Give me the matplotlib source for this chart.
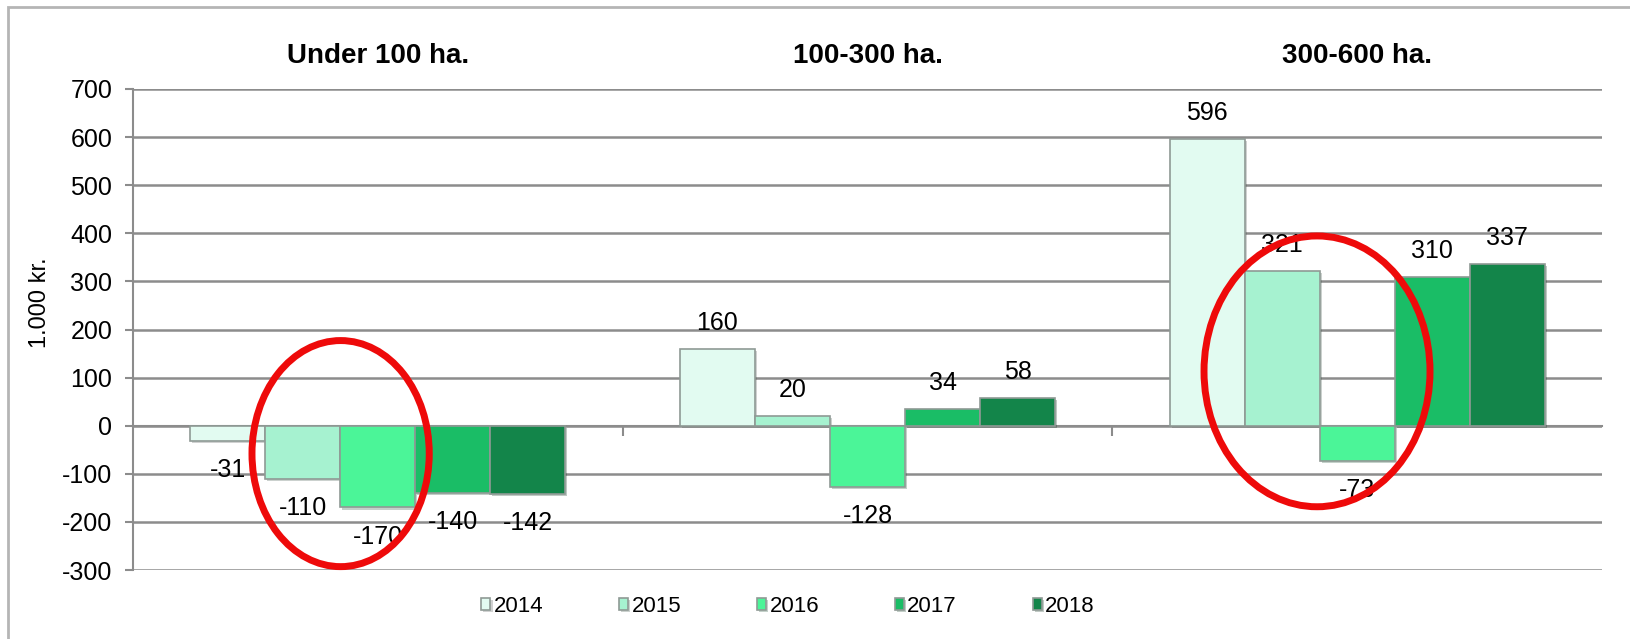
import numpy as np
import matplotlib.pyplot as plt
import matplotlib.patheffects as pe
from matplotlib.patches import Ellipse, Rectangle

plt.rcParams['font.family'] = ['Liberation Sans', 'DejaVu Sans']
plt.rcParams['axes.unicode_minus'] = False

groups = ['Under 100 ha.', '100-300 ha.', '300-600 ha.']
years = ['2014', '2015', '2016', '2017', '2018']
vals_2014 = [-31, 160, 596]
vals_2015 = [-110, 20, 321]
vals_2016 = [-170, -128, -73]
vals_2017 = [-140, 34, 310]
vals_2018 = [-142, 58, 337]
colors = ['#e2fbf1', '#a6f2d0', '#4bf598', '#1abd66', '#13854a']
yticks = [-300, -200, -100, 0, 100, 200, 300, 400, 500, 600, 700]

series = [vals_2014, vals_2015, vals_2016, vals_2017, vals_2018]

W, H = 1631, 639
fig = plt.figure(figsize=(W / 100, H / 100), dpi=100)
ax = fig.add_axes([133 / W, 1 - 570 / H, (1602 - 133) / W, (570 - 89) / H])

x = np.arange(len(groups))
bw = 0.766 / len(years)
shadow = [pe.SimplePatchShadow(offset=(1.5, -1.5), alpha=0.25), pe.Normal()]
for i, (yr, vals, c) in enumerate(zip(years, series, colors)):
    xpos = x - 0.766 / 2 + bw * (i + 0.5)
    bars = ax.bar(xpos, vals, width=bw, color=c, edgecolor='#8f9a95',
                  linewidth=1.2, label=yr, zorder=3)
    for b in bars:
        b.set_path_effects(shadow)
    for xp, v in zip(xpos, vals):
        off = 18.7 if v >= 0 else -21
        ax.annotate(str(v), (xp, v), xytext=(0, off), textcoords='offset points',
                    ha='center', va='center', fontsize=18, zorder=4)

ax.set_xlim(-0.5, 2.5)
ax.set_ylim(-300, 700)
ax.set_yticks(yticks)
ax.tick_params(axis='y', labelsize=18, length=6, color='#8c8c8c', width=1.5, pad=9)
ax.yaxis.grid(True, color='#8c8c8c', linewidth=1.8, zorder=0)
ax.set_axisbelow(True)

ax.spines['top'].set_visible(False)
ax.spines['right'].set_visible(False)
ax.spines['left'].set_color('#8c8c8c')
ax.spines['left'].set_linewidth(1.5)
ax.spines['bottom'].set_position(('data', 0))
ax.spines['bottom'].set_color('#8c8c8c')
ax.spines['bottom'].set_linewidth(1.5)
ax.set_xticks([0.5, 1.5])
ax.set_xticklabels([])
ax.tick_params(axis='x', length=7, color='#8c8c8c', width=1.5, direction='out')

ax.set_ylabel('1.000 kr.', fontsize=17)
ax.yaxis.set_label_coords(-0.056, 0.555)

for gx, g in zip(x, groups):
    ax.text(gx, 1.0 + 33 / 481, g, transform=ax.get_xaxis_transform(),
            ha='center', va='center', fontsize=20, fontweight='bold')

# red highlight rings
ax.add_patch(Ellipse((-0.076, -58), 0.362, 470, fill=False, edgecolor='#ee0a0a',
                     linewidth=5, zorder=6, clip_on=False))
ax.add_patch(Ellipse((1.918, 113), 0.4615, 563, fill=False, edgecolor='#ee0a0a',
                     linewidth=5, zorder=6, clip_on=False))

fig.legend(loc='center', bbox_to_anchor=(788 / W, 1 - 606 / H), ncol=5,
           frameon=False, fontsize=16, handlelength=0.42, handleheight=0.45,
           handletextpad=0.15, columnspacing=3.4)

# outer frame of the chart area
fig.patches.append(Rectangle((8 / W, 0 - 0.01), 1.1, 1 - 7 / H + 0.01,
                             transform=fig.transFigure, fill=False,
                             edgecolor='#b5b5b5', linewidth=2, zorder=0))

fig.savefig('out.png', dpi=100)
